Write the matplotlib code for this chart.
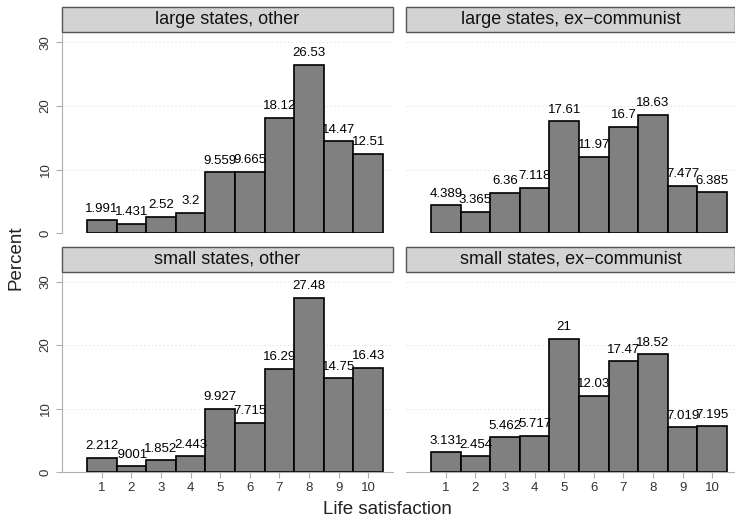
import numpy as np
import matplotlib.pyplot as plt
from matplotlib.patches import Rectangle

# Life satisfaction distribution (percent), by state size and history
scores = np.arange(1, 11)
large_other = [1.991, 1.431, 2.52, 3.2, 9.559, 9.665, 18.12, 26.53, 14.47, 12.51]
large_excom = [4.389, 3.365, 6.36, 7.118, 17.61, 11.97, 16.7, 18.63, 7.477, 6.385]
small_other = [2.212, .9001, 1.852, 2.443, 9.927, 7.715, 16.29, 27.48, 14.75, 16.43]
small_excom = [3.131, 2.454, 5.462, 5.717, 21, 12.03, 17.47, 18.52, 7.019, 7.195]
labels_large_other = ['1.991', '1.431', '2.52', '3.2', '9.559', '9.665', '18.12', '26.53', '14.47', '12.51']
labels_large_excom = ['4.389', '3.365', '6.36', '7.118', '17.61', '11.97', '16.7', '18.63', '7.477', '6.385']
labels_small_other = ['2.212', '.9001', '1.852', '2.443', '9.927', '7.715', '16.29', '27.48', '14.75', '16.43']
labels_small_excom = ['3.131', '2.454', '5.462', '5.717', '21', '12.03', '17.47', '18.52', '7.019', '7.195']
titles = ['large states, other', 'large states, ex\u2212communist',
          'small states, other', 'small states, ex\u2212communist']

W, H = 735, 521
fig = plt.figure(figsize=(W / 100, H / 100), dpi=100)
plt.rcParams['font.family'] = ['Liberation Sans', 'DejaVu Sans']


def px_axes(x0, y0, x1, y1):
    # y measured from the top of the figure, in pixels
    return fig.add_axes([x0 / W, 1 - y1 / H, (x1 - x0) / W, (y1 - y0) / H])


panels = [
    (large_other, labels_large_other, (62, 32, 393, 233), (62, 7, 393, 32), True, False),
    (large_excom, labels_large_excom, (406, 32, 735, 233), (406, 7, 735, 32), False, False),
    (small_other, labels_small_other, (62, 272, 393, 472), (62, 247, 393, 272), True, True),
    (small_excom, labels_small_excom, (406, 272, 735, 472), (406, 247, 735, 272), False, True),
]

for (vals, labs, box, sbox, left, bottom), title in zip(panels, titles):
    ax = px_axes(*box)
    width_px = box[2] - box[0]
    # bars span 0.5..10.5, starting 25px in from the left edge
    unit = 29.6
    x0 = 0.5 - 25 / unit
    ax.set_xlim(x0, x0 + width_px / unit)
    ax.set_ylim(0, (box[3] - box[1]) / 6.35)

    for g in [0, 10, 20, 30]:
        ax.axhline(g, color='#d8d8d8', lw=0.7, ls=(0, (1, 3)), zorder=0)

    ax.bar(scores, vals, width=1, color='#808080', edgecolor='black', lw=1.2, zorder=2)
    for s, v, t in zip(scores, vals, labs):
        ax.annotate(t, (s, v), xytext=(0, 4), textcoords='offset points',
                    ha='center', va='bottom', fontsize=9.5, zorder=3)

    for sp in ax.spines.values():
        sp.set_visible(False)
    ax.set_facecolor('none')

    if left:
        ax.spines['left'].set_visible(True)
        ax.spines['left'].set_color('#b0b0b0')
        ax.set_yticks([0, 10, 20, 30])
        ax.tick_params(axis='y', colors='#b0b0b0', labelcolor='#333333', length=4,
                       labelsize=9.5)
        for lab in ax.get_yticklabels():
            lab.set_rotation(90)
            lab.set_va('center')
    else:
        ax.set_yticks([])

    if bottom:
        ax.spines['bottom'].set_visible(True)
        ax.spines['bottom'].set_color('#b0b0b0')
        ax.set_xticks(scores)
        ax.tick_params(axis='x', colors='#b0b0b0', labelcolor='#333333', length=4,
                       labelsize=9.5)
    else:
        ax.set_xticks([])

    # strip header
    sax = px_axes(*sbox)
    sax.set_xlim(0, 1)
    sax.set_ylim(0, 1)
    sax.axis('off')
    sax.add_patch(Rectangle((0, 0), 1, 1, transform=sax.transAxes, facecolor='#d3d3d3',
                            edgecolor='#555555', lw=1, clip_on=False))
    sax.text(0.5, 0.5, title, ha='center', va='center', fontsize=13, color='#111111')

fig.text(16 / W, 1 - 258 / H, 'Percent', rotation=90, ha='center', va='center', fontsize=13.5,
         color='#222222')
fig.text(387 / W, 1 - 510 / H, 'Life satisfaction', ha='center', va='center', fontsize=13.5,
         color='#222222')

fig.savefig('out.png', dpi=100)
